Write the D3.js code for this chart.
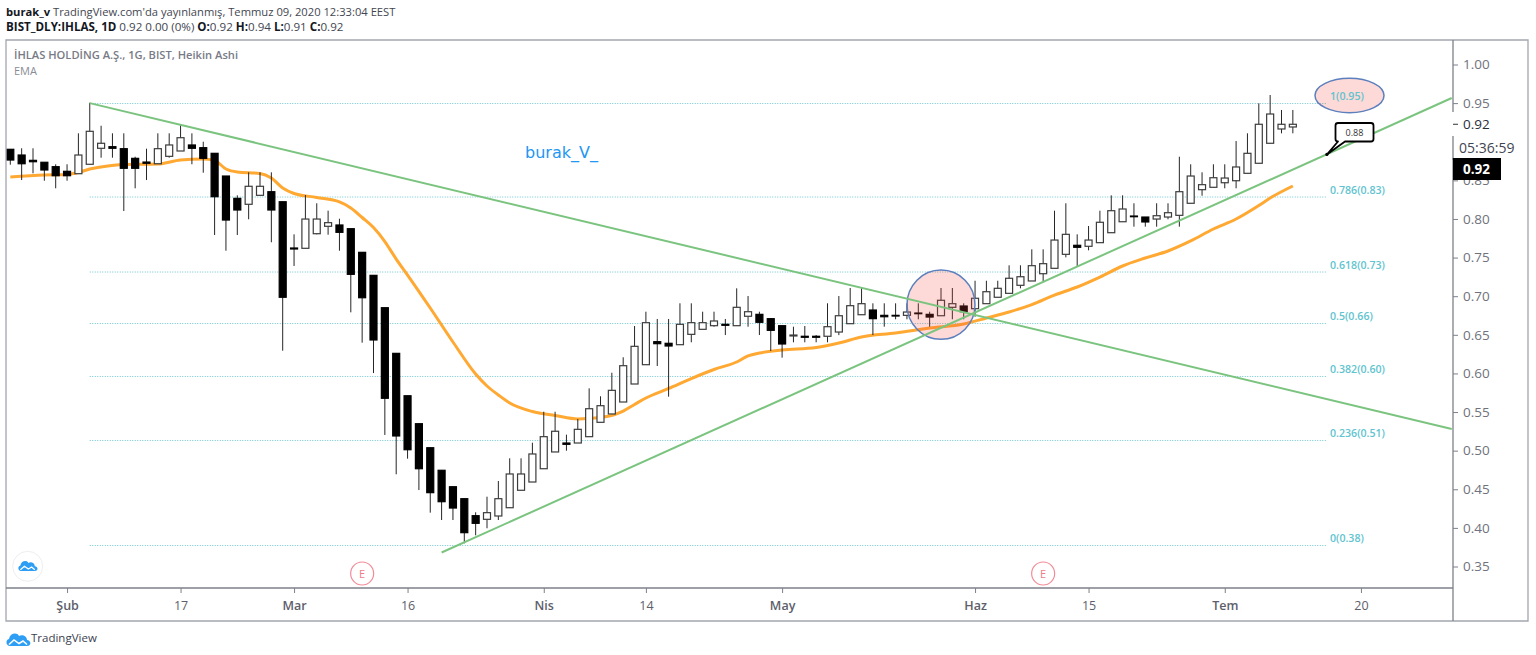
<!DOCTYPE html>
<html>
<head>
<meta charset="utf-8">
<title>IHLAS</title>
<script src="https://cdn.jsdelivr.net/npm/d3@7"></script>
<style>
html, body { margin: 0; padding: 0; background: #fff; overflow: hidden; }
svg { display: block; font-family: "Open Sans", "Noto Sans", sans-serif; }
</style>
</head>
<body>
<div id="chart"></div>
<script>
// heikin ashi candles, one entry per bar
var opens = [.8902,.8828,.8759,.8734,.8677,.8617,.8586,.8708,.8915,.8936,.8910,.8785,.8737,.8715,.8811,.8880,.8958,.8923,.8850,.8556,.8267,.8190,.8306,.8353,.8223,.7624,.7620,.7809,.7905,.7922,.7874,.7568,.7270,.6851,.6260,.5711,.5349,.5038,.4746,.4533,.4378,.4158,.4111,.4154,.4261,.4487,.4594,.4766,.4983,.5099,.5099,.5181,.5367,.5475,.5630,.5863,.6113,.6411,.6390,.6372,.6506,.6571,.6618,.6636,.6618,.6740,.6765,.6709,.6618,.6485,.6481,.6481,.6481,.6536,.6644,.6760,.6821,.6752,.6752,.6752,.6782,.6765,.6747,.6856,.6873,.6838,.6903,.6986,.7037,.7141,.7197,.7291,.7361,.7542,.7659,.7646,.7693,.7822,.7964,.8038,.8025,.7999,.8025,.8047,.8203,.8379,.8410,.8469,.8495,.8591,.8721,.8980,.9165,.9191]
var closes = [.8763,.8715,.8741,.8634,.8560,.8560,.8828,.9135,.8980,.8915,.8656,.8656,.8721,.8910,.8958,.9052,.8915,.8785,.8288,.7986,.8116,.8423,.8423,.8116,.6986,.7611,.7999,.7999,.7952,.7827,.7283,.6980,.6433,.5678,.5190,.5012,.4766,.4456,.4339,.4257,.3938,.4059,.4197,.4378,.4698,.4698,.4957,.5181,.5251,.5082,.5276,.5543,.5582,.5781,.6100,.6351,.6657,.6385,.6355,.6636,.6657,.6657,.6679,.6623,.6856,.6799,.6662,.6558,.6381,.6497,.6468,.6468,.6605,.6747,.6877,.6903,.6709,.6734,.6743,.6795,.6773,.6730,.6947,.6903,.6799,.6973,.7058,.7102,.7232,.7252,.7395,.7421,.7727,.7801,.7633,.7727,.7957,.8107,.8129,.8029,.7961,.8042,.8081,.8353,.8556,.8444,.8534,.8530,.8673,.8850,.9226,.9359,.9226,.9226]
var highs = [.8902,.8915,.8915,.8734,.8708,.8708,.9109,.9505,.9207,.9109,.9109,.8806,.8910,.9109,.9109,.9226,.9109,.9000,.8850,.8556,.8306,.8604,.8604,.8604,.8223,.7801,.8310,.8203,.8107,.8003,.7874,.7568,.7270,.6851,.6260,.5711,.5349,.5038,.4746,.4533,.4378,.4202,.4404,.4607,.4901,.4901,.5103,.5504,.5504,.5207,.5410,.5807,.5704,.6009,.6209,.6614,.6799,.6705,.6705,.6908,.6908,.6799,.6799,.6705,.7102,.7002,.6799,.6709,.6618,.6605,.6614,.6497,.6908,.7002,.7106,.7115,.6908,.6908,.6908,.6908,.6908,.6799,.7106,.7106,.6908,.7200,.7200,.7200,.7400,.7400,.7607,.7607,.8107,.8203,.7801,.7909,.8107,.8306,.8306,.8203,.8025,.8203,.8203,.8806,.8708,.8604,.8708,.8708,.9009,.9109,.9497,.9605,.9411,.9411]
var lows = [.8702,.8504,.8591,.8495,.8397,.8495,.8586,.8708,.8793,.8793,.8103,.8397,.8504,.8715,.8793,.8880,.8708,.8599,.7792,.7589,.7792,.7996,.8306,.7698,.6294,.7391,.7620,.7801,.7796,.7589,.6791,.6398,.6005,.5203,.4694,.4896,.4490,.4197,.4102,.4102,.3800,.3904,.3995,.4102,.4261,.4487,.4594,.4766,.4983,.4999,.5099,.5181,.5367,.5475,.5630,.5863,.6113,.6096,.5699,.6372,.6403,.6571,.6605,.6497,.6618,.6605,.6497,.6290,.6204,.6403,.6403,.6403,.6403,.6496,.6644,.6760,.6497,.6605,.6701,.6701,.6701,.6605,.6747,.6701,.6701,.6734,.6903,.6986,.7037,.7102,.7197,.7197,.7361,.7503,.7391,.7594,.7693,.7822,.7964,.7900,.7900,.7900,.7996,.7900,.8203,.8301,.8410,.8397,.8397,.8591,.8721,.8980,.9109,.9109]

var emaBars = [0,3,5,6,7,8,10,13,15,17,18,19,20,22,23,24,25,27,29,30,31,32,33,34,35,37,39,41,42,43,44,46,48,50,52,54,55,56,58,60,62,64,65,66,68,71,73,75,78,81,84,86,88,90,92,94,96,98,100,102,104,106,108,110,111,113]
var emaValues = [.8543,.8569,.8576,.8601,.8647,.8673,.8705,.8712,.8763,.8776,.8757,.8647,.8608,.8589,.8530,.8401,.8330,.8278,.8220,.8142,.8019,.7889,.7708,.7481,.7274,.6847,.6407,.5992,.5837,.5721,.5617,.5507,.5455,.5410,.5429,.5513,.5598,.5682,.5805,.5934,.6051,.6148,.6226,.6264,.6303,.6336,.6394,.6472,.6523,.6588,.6640,.6718,.6795,.6892,.7015,.7119,.7248,.7391,.7494,.7585,.7715,.7870,.7999,.8174,.8271,.8427]

// axis, 0.90 sits under the countdown so it never shows
var priceTicks = [1.00,.95,.85,.80,.75,.70,.65,.60,.55,.50,.45,.40,.35]
var timeTickBars = [5,15,25,35,47,56,68,85,95,107,119]
var timeTickLabels = ["Şub","17","Mar","16","Nis","14","May","Haz","15","Tem","20"]
var monthLabels = ["Şub","Mar","Nis","May","Haz","Tem"]
var lastBar = 127

// drawings
var fibPrices = [.9495,.8284,.7313,.6646,.5960,.5131,.3772]
var fibLabels = ["1(0.95)","0.786(0.83)","0.618(0.73)","0.5(0.66)","0.382(0.60)","0.236(0.51)","0(0.38)"]
var fibStartBar = 7
var fibEndBar = 116
var fallingLine = [[7,.9500],[127,.5280]]
var risingLine = [[38,.3681],[127,.9566]]
var earningsBars = [31,91]

var width = 1536, height = 655
var plotLeft = 6, plotRight = 1453, plotTop = 40, plotBottom = 588, frameRight = 1528, frameBottom = 621

var x = d3.scaleLinear().domain([0, lastBar]).range([10.3, 1451.75])
var y = d3.scaleLinear().domain([.35, 1]).range([566.5, 64.5])

var svg = d3.select("#chart").append("svg").attr("width", width).attr("height", height)

//header texts
function headerLine(top, size, parts) {
	let t = svg.append("text").attr("x", 6).attr("y", top).attr("font-size", size)
	parts.forEach(function(p) {
		t.append("tspan").attr("font-weight", p[1] ? 700 : 400).attr("fill", p[1] ? "#131722" : "#434651").text(p[0])
	})
}
headerLine(16, 11.2, [["burak_v", true], [" TradingView.com'da yayınlanmış, Temmuz 09, 2020 12:33:04 EEST", false]])
headerLine(31, 11.6, [["BIST_DLY:IHLAS, 1D", true], ["  0.92 0.00 (0%) ", false], ["O:", true], ["0.92 ", false], ["H:", true], ["0.94 ", false], ["L:", true], ["0.91 ", false], ["C:", true], ["0.92", false]])

svg.append("text").attr("x", 14).attr("y", 59).attr("font-size", 11.15).attr("font-weight", 600).attr("fill", "#787b86").text("İHLAS HOLDİNG A.Ş., 1G, BIST, Heikin Ashi")
svg.append("text").attr("x", 14).attr("y", 75).attr("font-size", 11).attr("fill", "#8a8d96").text("EMA")

//fibonacci levels
var fibColor = "#5fc4cf"
fibPrices.forEach(function(p) {
	svg.append("line")
		.attr("x1", x(fibStartBar)).attr("x2", x(fibEndBar))
		.attr("y1", y(p)).attr("y2", y(p))
		.attr("stroke", "#6cc6cf").attr("stroke-width", 1).attr("stroke-dasharray", "1 1.5")
})

//ema goes under the candles
var emaLine = d3.line()
	.x(function(d) { return x(d[0]) })
	.y(function(d) { return y(d[1]) })
	.curve(d3.curveMonotoneX)
svg.append("path")
	.datum(emaBars.map(function(b, i) { return [b, emaValues[i]] }))
	.attr("fill", "none").attr("stroke", "#ffa832").attr("stroke-width", 3).attr("d", emaLine)

//candles
var candles = svg.append("g").selectAll("g").data(opens).enter().append("g")
candles.append("line")
	.attr("x1", function(d, i) { return x(i) }).attr("x2", function(d, i) { return x(i) })
	.attr("y1", function(d, i) { return y(highs[i]) }).attr("y2", function(d, i) { return y(lows[i]) })
	.attr("stroke", "#262626").attr("stroke-width", 1)
candles.append("rect")
	.attr("x", function(d, i) { return x(i) - 3.5 })
	.attr("width", 7)
	.attr("y", function(d, i) { return y(Math.max(opens[i], closes[i])) })
	.attr("height", function(d, i) { return Math.abs(y(opens[i]) - y(closes[i])) })
	.attr("fill", function(d, i) { return closes[i] < opens[i] ? "#000" : "#fff" })
	.attr("stroke", function(d, i) { return closes[i] < opens[i] ? "#000" : "#3c3c3c" })
	.attr("stroke-width", 1.2)

//circle on the breakout
svg.append("ellipse")
	.attr("cx", x(82)).attr("cy", y(.6890)).attr("rx", 34).attr("ry", 34.6)
	.attr("fill", "#f44336").attr("fill-opacity", .2).attr("stroke", "#5c7fbd").attr("stroke-width", 1.5)

//trend lines
var trend = d3.line().x(function(d) { return x(d[0]) }).y(function(d) { return y(d[1]) })
;[fallingLine, risingLine].forEach(function(l) {
	svg.append("path").attr("d", trend(l)).attr("fill", "none").attr("stroke", "#7bc47f").attr("stroke-width", 2)
})

//ellipse behind the top level label
svg.append("ellipse")
	.attr("cx", 1349.5).attr("cy", y(.9495) - 8).attr("rx", 34.5).attr("ry", 17.2)
	.attr("fill", "#f44336").attr("fill-opacity", .2).attr("stroke", "#5c7fbd").attr("stroke-width", 1.5)

fibLabels.forEach(function(l, i) {
	svg.append("text")
		.attr("x", 1330)
		.attr("y", y(fibPrices[i]) - 3.5)
		.attr("font-size", 10.6).attr("font-weight", 600).attr("fill", fibColor)
		.text(l)
})

//price note
var noteX = x(116), noteY = y(.8835)
svg.append("path")
	.attr("d", "M" + noteX + "," + noteY + " L1338,141.5 Q1335.5,141.5 1335.5,139 L1335.5,125.5 Q1335.5,123 1338,123 L1371,123 Q1373.5,123 1373.5,125.5 L1373.5,139 Q1373.5,141.5 1371,141.5 L1345,141.5 Z")
	.attr("fill", "#fff").attr("stroke", "#000").attr("stroke-width", 1.8).attr("stroke-linejoin", "round")
svg.append("circle").attr("cx", noteX).attr("cy", noteY).attr("r", 1.6).attr("fill", "#000")
svg.append("text").attr("x", 1354.5).attr("y", 135.5).attr("text-anchor", "middle").attr("font-size", 9).attr("fill", "#333").text("0.88")

svg.append("text").attr("x", 525).attr("y", 158).attr("font-family", "DejaVu Sans").attr("font-size", 16).attr("fill", "#2196f3").text("burak_V_")

//earnings marks
earningsBars.forEach(function(b) {
	svg.append("circle").attr("cx", x(b)).attr("cy", 573.5).attr("r", 11.5).attr("fill", "#fff").attr("stroke", "#f28b98").attr("stroke-width", 1.2)
	svg.append("text").attr("x", x(b)).attr("y", 577.5).attr("text-anchor", "middle").attr("font-size", 11).attr("fill", "#ee7c8a").text("E")
})

//tradingview cloud
function cloud(g, color) {
	g.append("path")
		.attr("d", "M4,15 C0,15 -1,9 3,8 C4,2 11,1 13,5 C16,3 21,5 21,9 C25,9 26,15 21,15 Z")
		.attr("fill", color)
	g.append("path")
		.attr("d", "M3,13.5 L8,9 L13,12.5 L17,10 L21,13.5")
		.attr("fill", "none").attr("stroke", "#fff").attr("stroke-width", 1.5)
}
svg.append("circle").attr("cx", 27.7).attr("cy", 566.3).attr("r", 15).attr("fill", "#fff").attr("stroke", "#eeeeee")
cloud(svg.append("g").attr("transform", "translate(18,559) scale(.8)"), "#2e9ef4")
cloud(svg.append("g").attr("transform", "translate(6,631)"), "#2e9ef4")
svg.append("text").attr("x", 31).attr("y", 642).attr("font-size", 11.5).attr("fill", "#3c4150").text("TradingView")

//frame
svg.append("path")
	.attr("d", "M" + plotLeft + "," + frameBottom + "V" + plotTop + "H" + frameRight + "V" + frameBottom + "Z")
	.attr("fill", "none").attr("stroke", "#a3a6af").attr("stroke-width", 1.3)

//axes
var yAxis = svg.append("g").attr("transform", "translate(" + plotRight + ",0)")
	.call(d3.axisRight(y).tickValues(priceTicks).tickSize(5).tickPadding(5).tickFormat(d3.format(".2f")))
yAxis.select(".domain").attr("d", "M0," + plotTop + "V" + frameBottom).attr("stroke", "#7d808a").attr("stroke-width", 1.3)
yAxis.selectAll(".tick line").attr("stroke", "#7d808a")
yAxis.selectAll(".tick text").attr("font-family", "Open Sans").attr("font-size", 13.5).attr("fill", "#6f727c")

var xAxis = svg.append("g").attr("transform", "translate(0," + plotBottom + ")")
	.call(d3.axisBottom(x).tickValues(timeTickBars).tickSize(5).tickPadding(8).tickFormat(function(d, i) { return timeTickLabels[i] }))
xAxis.select(".domain").attr("d", "M" + plotLeft + ",0H" + plotRight).attr("stroke", "#7d808a").attr("stroke-width", 1.3)
xAxis.selectAll(".tick line").attr("stroke", "#7d808a")
xAxis.selectAll(".tick text")
	.attr("font-family", "Open Sans").attr("font-size", 12.5)
	.attr("font-weight", function(d, i) { return monthLabels.indexOf(timeTickLabels[i]) >= 0 ? 600 : 400 })
	.attr("fill", "#5d606b")

//last price labels on the axis
svg.append("rect").attr("x", plotRight - 1).attr("y", 112).attr("width", 60).attr("height", 46).attr("fill", "#fff")
svg.append("line").attr("x1", plotRight).attr("x2", plotRight + 5).attr("y1", y(.9226)).attr("y2", y(.9226)).attr("stroke", "#333")
svg.append("text").attr("x", plotRight + 10).attr("y", y(.9226) + 4.5).attr("font-size", 13.5).attr("fill", "#2a2e39").text("0.92")
svg.append("line").attr("x1", plotRight).attr("x2", plotRight).attr("y1", 136).attr("y2", 160).attr("stroke", "#7d808a").attr("stroke-width", 1.3)
svg.append("text").attr("x", plotRight + 6).attr("y", 152.5).attr("font-size", 14).attr("fill", "#434651").text("05:36:59")
svg.append("rect").attr("x", plotRight).attr("y", 158).attr("width", 48).attr("height", 22).attr("fill", "#000")
svg.append("text").attr("x", plotRight + 10).attr("y", 174).attr("font-size", 13.5).attr("font-weight", 700).attr("fill", "#fff").text("0.92")
</script>
</body>
</html>
